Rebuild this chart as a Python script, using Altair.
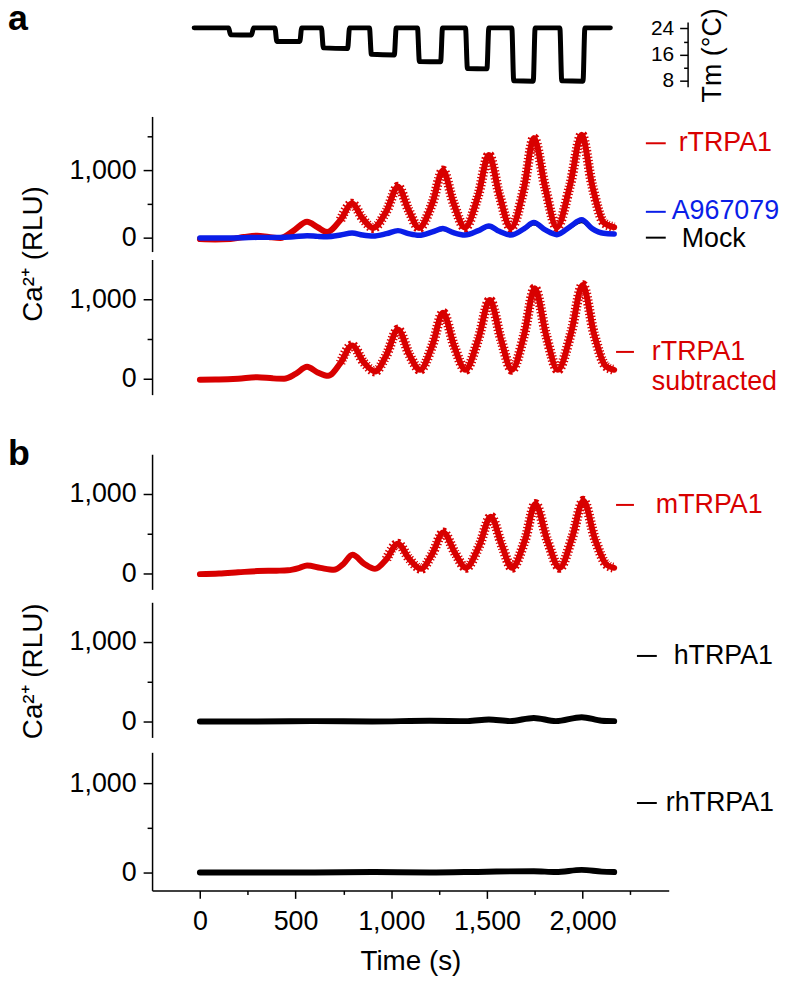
import altair as alt
import pandas as pd

FONT = "Liberation Sans"
RED = "#d80000"
BLUE = "#0a1ee8"
BLACK = "#000000"

# ---------------- data ----------------
# temperature trace (deg C) vs time (s)
temp_time = [-30, 150, 160, 270, 280, 392, 402, 522, 532, 635, 645, 772, 782, 886, 896,
             1016, 1026, 1137, 1147, 1258, 1268, 1388, 1398, 1500, 1510, 1630, 1640,
             1742, 1752, 1881, 1891, 2002, 2012, 2145]
temp_c = [24.2, 24.2, 22.1, 22.0, 24.2, 24.2, 20.0, 20.0, 24.2, 24.2, 18.0, 17.8, 24.2, 24.2,
          16.0, 15.8, 24.2, 24.2, 13.8, 13.7, 24.2, 24.2, 11.6, 11.5, 24.2, 24.2, 7.8, 7.7,
          24.2, 24.2, 7.8, 7.7, 24.2, 24.2]

# panel a (top): rTRPA1, A967079, Mock
a_time = [0, 80, 160, 230, 300, 360, 420, 490, 560, 615, 665, 735, 795, 850, 905, 975,
          1035, 1090, 1145, 1215, 1270, 1325, 1385, 1455, 1510, 1565, 1625, 1695, 1745,
          1805, 1865, 1935, 1995, 2050, 2110, 2165]
rtrpa1 = [-15, -20, -15, 15, 35, 15, 0, 110, 240, 160, 90, 270, 510, 290, 150, 400,
          760, 420, 150, 520, 1000, 520, 155, 640, 1230, 640, 150, 760, 1480,
          740, 160, 790, 1530, 780, 230, 160]
a967079 = [0, 0, 0, 5, 10, 10, 10, 20, 35, 25, 20, 45, 75, 45, 30, 65,
           110, 65, 40, 90, 140, 80, 45, 110, 180, 100, 45, 140, 230,
           120, 50, 170, 270, 140, 70, 60]
mock = [0, 0, 0, 5, 8, 8, 8, 15, 30, 20, 15, 38, 62, 38, 25, 55,
        95, 55, 32, 78, 120, 68, 38, 95, 155, 85, 40, 120, 200,
        105, 45, 148, 235, 122, 60, 52]

# panel a (bottom): rTRPA1 subtracted
sub_time = [0, 100, 200, 300, 380, 440, 500, 560, 615, 670, 735, 795, 855, 915, 975, 1035,
            1095, 1150, 1215, 1270, 1330, 1388, 1455, 1515, 1575, 1630, 1695, 1750, 1810,
            1870, 1940, 2000, 2060, 2120, 2165]
sub_val = [-12, -10, 0, 19, 5, 0, 60, 150, 80, 37, 200, 420, 210, 92, 300, 620,
           300, 112, 420, 830, 400, 112, 500, 990, 480, 112, 560, 1140, 540,
           112, 580, 1180, 560, 160, 112]

# panel b: mTRPA1, hTRPA1, rhTRPA1
m_time = [0, 100, 200, 300, 400, 460, 520, 560, 630, 700, 750, 797, 860, 915, 975, 1034,
          1095, 1156, 1215, 1272, 1335, 1390, 1460, 1520, 1580, 1630, 1700, 1753, 1815,
          1880, 1945, 2004, 2065, 2125, 2165]
mtrpa1 = [-8, 0, 15, 30, 35, 40, 70, 100, 70, 46, 120, 235, 120, 58, 180, 375,
          180, 58, 250, 515, 250, 71, 350, 715, 340, 71, 430, 875, 420,
          71, 450, 915, 430, 110, 71]
h_time = [0, 300, 600, 900, 1200, 1400, 1510, 1620, 1745, 1860, 1995, 2100, 2165]
htrpa1 = [0, 0, 5, 0, 10, 5, 25, 5, 45, 5, 55, 10, 5]
rh_time = [0, 300, 600, 900, 1200, 1500, 1745, 1860, 1995, 2100, 2165]
rhtrpa1 = [0, 0, 0, 5, 0, 10, 15, 5, 30, 10, 5]

time_ticks = list(range(0, 2251, 250))
ca_ticks_a = [0, 500, 1000, 1500]
ca_ticks = [0, 500, 1000]
temp_ticks = [8, 12, 16, 20, 24]

# ---------------- helpers ----------------
XDOM = [-250, 2450]
W = 520
one = pd.DataFrame({"k": [0]})


def df(t, v):
    return pd.DataFrame({"t": t, "v": v})


def xenc(axis=None):
    return alt.X("t:Q", scale=alt.Scale(domain=XDOM, nice=False, zero=False), axis=axis)


def ca_axis(values, title=None, titleY=0):
    kw = dict(values=values, format=",d",
              labelExpr="datum.value % 1000 === 0 ? datum.label : ''",
              tickSize={"condition": {"test": "datum.value % 1000 === 0", "value": 9}, "value": 5},
              labelFontSize=27, labelPadding=7, labelOverlap=False, grid=False)
    if title:
        kw.update(title=title, titleX=-105, titleY=titleY, titleAngle=270,
                  titleBaseline="bottom", titleAlign="center", titleFontSize=28)
    else:
        kw.update(title=None)
    return alt.Axis(**kw)


def panel(series, ydom, values, height, labels, dashes, title=None, titleY=0,
          xaxis=None, letter=None):
    yenc = alt.Y("v:Q", scale=alt.Scale(domain=ydom, nice=False, zero=False),
                 axis=ca_axis(values, title, titleY))
    layers = []
    for data, color, width, fuzzy_from in series:
        base = alt.Chart(data).encode(x=xenc(xaxis), y=yenc)
        layers.append(base.mark_line(color=color, strokeWidth=width, interpolate="monotone",
                                     strokeCap="round", strokeJoin="round"))
        if fuzzy_from is not None:
            layers.append(base.transform_filter(f"datum.t >= {fuzzy_from}").mark_line(
                color=color, strokeWidth=10, strokeDash=[1.3, 2.0], interpolate="monotone"))
    for text, color, x, y in labels:
        layers.append(alt.Chart(one).mark_text(color=color, font=FONT, fontSize=27,
                                               align="left", baseline="middle").encode(
            x=alt.value(x), y=alt.value(y), text=alt.value(text)))
    for color, x1, x2, y in dashes:
        layers.append(alt.Chart(one).mark_rule(color=color, strokeWidth=2).encode(
            x=alt.value(x1), x2=alt.value(x2), y=alt.value(y)))
    if letter:
        layers.append(alt.Chart(one).mark_text(color=BLACK, font=FONT, fontSize=36, fontWeight="bold",
                                               align="left", baseline="middle").encode(
            x=alt.value(letter[1]), y=alt.value(letter[2]), text=alt.value(letter[0])))
    return alt.layer(*layers).properties(width=W, height=height)


def spacer(h):
    return alt.Chart(one).mark_point(opacity=0).encode(
        x=alt.value(0), y=alt.value(0)).properties(width=W, height=h)


# ---------------- temperature panel ----------------
temp_df = pd.DataFrame({"t": temp_time, "c": temp_c})
temp_axis = alt.Axis(orient="left", offset=-539, values=temp_ticks,
                     labelExpr="datum.value % 8 === 0 ? datum.label : ''",
                     tickSize={"condition": {"test": "datum.value % 8 === 0", "value": 8}, "value": 4},
                     labelFontSize=21, labelPadding=6, labelOverlap=False, grid=False,
                     title="Tm (°C)", titleX=39, titleY=33, titleAngle=270,
                     titleBaseline="bottom", titleAlign="center", titleFontSize=27)
temp_line = alt.Chart(temp_df).mark_line(color=BLACK, strokeWidth=5, interpolate="monotone",
                                         strokeCap="round", strokeJoin="round").encode(
    x=xenc(None),
    y=alt.Y("c:Q", scale=alt.Scale(domain=[6, 26], nice=False, zero=False), axis=temp_axis))
letter_a = alt.Chart(one).mark_text(color=BLACK, font=FONT, fontSize=36, fontWeight="bold",
                                    align="left", baseline="middle").encode(
    x=alt.value(-145), y=alt.value(-3), text=alt.value("a"))
temp = alt.layer(temp_line, letter_a).properties(width=W, height=65)

# ---------------- Ca panels ----------------
a1 = panel([(df(a_time, mock), BLACK, 2, None),
            (df(a_time, rtrpa1), RED, 6, 700),
            (df(a_time, a967079), BLUE, 5.5, None)],
           [-200, 1800], ca_ticks_a, 136,
           labels=[("rTRPA1", RED, 530, 27), ("A967079", BLUE, 523, 95), ("Mock", BLACK, 533, 123)],
           dashes=[(RED, 497, 517, 27), (BLUE, 497, 517, 96), (BLACK, 497, 517, 122)])

a2 = panel([(df(sub_time, sub_val), RED, 6, 700)],
           [-200, 1500], ca_ticks, 136,
           labels=[("rTRPA1", RED, 503, 93), ("subtracted", RED, 503, 123)],
           dashes=[(RED, 467, 485, 93)],
           title="Ca²⁺ (RLU)", titleY=-6)

b1 = panel([(df(m_time, mtrpa1), RED, 6, 950)],
           [-200, 1500], ca_ticks, 136,
           labels=[("mTRPA1", RED, 507, 51)],
           dashes=[(RED, 467, 485, 51)],
           letter=("b", -145, 0))

b2 = panel([(df(h_time, htrpa1), BLACK, 6, None)],
           [-200, 1500], ca_ticks, 136,
           labels=[("hTRPA1", BLACK, 525, 54)],
           dashes=[(BLACK, 488, 508, 54)],
           title="Ca²⁺ (RLU)", titleY=69)

time_axis = alt.Axis(values=time_ticks, format=",d",
                     labelExpr="datum.value % 500 === 0 ? datum.label : ''",
                     tickSize={"condition": {"test": "datum.value % 500 === 0", "value": 8}, "value": 4},
                     labelFontSize=27, labelPadding=10, labelOverlap=False, labelFlush=False,
                     grid=False, title="Time (s)", titleFontSize=28, titlePadding=14)

b3 = panel([(df(rh_time, rhtrpa1), BLACK, 6, None)],
           [-200, 1344], ca_ticks, 139,
           labels=[("rhTRPA1", BLACK, 517, 51)],
           dashes=[(BLACK, 488, 508, 51)],
           xaxis=time_axis)

chart = alt.vconcat(temp, spacer(30), a1, spacer(8), a2, spacer(60),
                    b1, spacer(13), b2, spacer(15), b3,
                    spacing=0, bounds="flush").properties(
    padding={"left": 0, "top": -10, "right": 0, "bottom": 0}
).configure_view(stroke=None).configure_axis(
    domainColor=BLACK, tickColor=BLACK, labelColor=BLACK, titleColor=BLACK,
    labelFont=FONT, titleFont=FONT, titleFontWeight="normal",
    domainWidth=1.5, tickWidth=1.5
)

chart.save("out.html", embed_options={"renderer": "svg", "actions": False})
